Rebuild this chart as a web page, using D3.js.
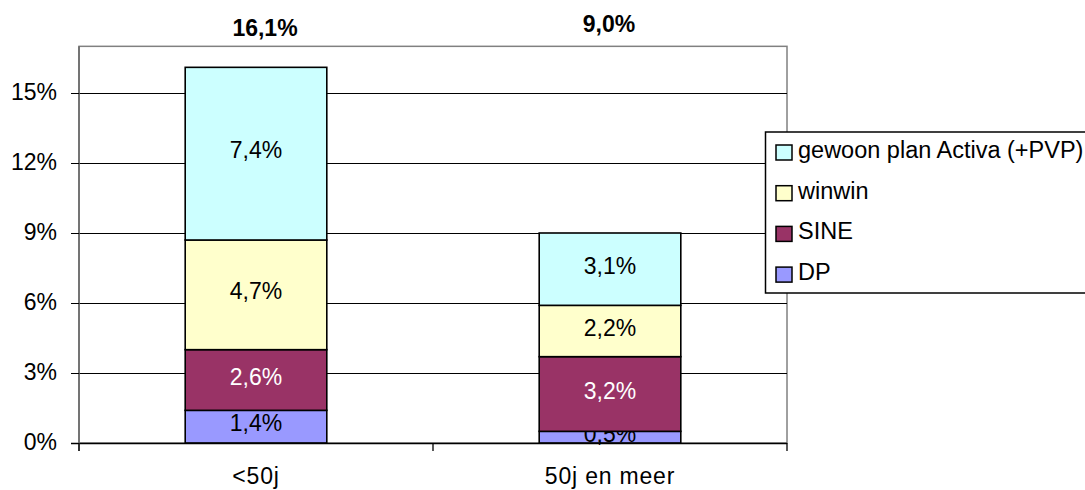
<!DOCTYPE html>
<html>
<head>
<meta charset="utf-8">
<script src="https://cdn.jsdelivr.net/npm/d3@7/dist/d3.min.js"></script>
<style>
  body { margin: 0; background: #fff; }
  svg { display: block; font-family: "Liberation Sans", Arial, sans-serif; }
</style>
</head>
<body>
<svg width="1085" height="490"></svg>
<script>
// data (percent)
var categories = ["<50j", "50j en meer"];
var seriesNames = ["DP", "SINE", "winwin", "gewoon plan Activa (+PVP)"];
var dp = [1.4, 0.5];
var sine = [2.6, 3.2];
var winwin = [4.7, 2.2];
var gewoon = [7.4, 3.1];
var totals = [16.1, 9.0];
var yTicks = [0, 3, 6, 9, 12, 15];

var colors = ["#9999ff", "#993366", "#ffffcc", "#ccffff"];
var labelColors = ["#000", "#fff", "#000", "#000"];

var rows = categories.map(function(c, i) {
    return {cat: c, "DP": dp[i], "SINE": sine[i], "winwin": winwin[i], "gewoon plan Activa (+PVP)": gewoon[i]};
});

var fmt = function(v) { return d3.format(".1f")(v).replace(".", ",") + "%"; };

var left = 79, right = 787, bottom = 443;

var x = d3.scaleBand().domain(categories).range([left, right])
    .paddingInner(0.6).paddingOuter(0.3);
var y = d3.scaleLinear().domain([0, 17]).range([bottom, bottom - 17 * 70 / 3]);
var xOuter = d3.scaleBand().domain(categories).range([left, right]);

var svg = d3.select("svg");

// plot frame
svg.append("rect")
    .attr("x", left).attr("y", y(17))
    .attr("width", right - left).attr("height", bottom - y(17))
    .attr("fill", "#fff").attr("stroke", "#808080").attr("stroke-width", 1.5);

// gridlines
svg.append("g").selectAll("line").data(yTicks.filter(function(d){ return d > 0; }))
    .enter().append("line")
    .attr("x1", left).attr("x2", right)
    .attr("y1", function(d){ return Math.round(y(d)) + 0.5; })
    .attr("y2", function(d){ return Math.round(y(d)) + 0.5; })
    .attr("stroke", "#000").attr("stroke-width", 1);

// stacked bars
var stack = d3.stack().keys(seriesNames)(rows);

var layers = svg.append("g").selectAll("g").data(stack).enter().append("g");

layers.selectAll("rect").data(function(d){ return d; }).enter().append("rect")
    .attr("x", function(d){ return x(d.data.cat); })
    .attr("width", x.bandwidth())
    .attr("y", function(d){ return y(d[1]); })
    .attr("height", function(d){ return y(d[0]) - y(d[1]); })
    .attr("fill", function(d){ return colors[seriesNames.indexOf(d3.select(this.parentNode).datum().key)]; })
    .attr("stroke", "#000").attr("stroke-width", 1.6);

layers.each(function(layer, li) {
    d3.select(this).selectAll("text").data(layer).enter().append("text")
        .attr("x", function(d){ return x(d.data.cat) + x.bandwidth() / 2; })
        .attr("y", function(d){ return (y(d[0]) + y(d[1])) / 2 + 4.5; })
        .attr("text-anchor", "middle")
        .attr("font-size", 23)
        .attr("fill", labelColors[li])
        .text(function(d){ return fmt(d[1] - d[0]); });
});

// axes
svg.append("line").attr("x1", left - 8).attr("x2", right)
    .attr("y1", bottom + 0.5).attr("y2", bottom + 0.5)
    .attr("stroke", "#000").attr("stroke-width", 1.3);
svg.append("line").attr("x1", left).attr("x2", left)
    .attr("y1", y(17)).attr("y2", bottom + 8)
    .attr("stroke", "#666").attr("stroke-width", 1.5);

// y ticks
var yt = svg.append("g").selectAll("g").data(yTicks).enter().append("g")
    .attr("transform", function(d){ return "translate(0," + (Math.round(y(d)) + 0.5) + ")"; });
yt.append("line").attr("x1", left - 8).attr("x2", left).attr("stroke", "#000");
yt.append("text").attr("x", 57).attr("y", 6.5)
    .attr("text-anchor", "end").attr("font-size", 23)
    .text(function(d){ return d + "%"; });

// x ticks
var xTickPos = categories.map(function(c){ return xOuter(c); }).concat([right]);
svg.append("g").selectAll("line").data(xTickPos).enter().append("line")
    .attr("x1", function(d){ return d; }).attr("x2", function(d){ return d; })
    .attr("y1", bottom).attr("y2", bottom + 8)
    .attr("stroke", "#000").attr("stroke-width", 1.3);

svg.append("g").selectAll("text").data(categories).enter().append("text")
    .attr("x", function(d){ return x(d) + x.bandwidth() / 2; })
    .attr("y", 484)
    .attr("text-anchor", "middle").attr("font-size", 23)
    .attr("letter-spacing", 0.8)
    .text(function(d){ return d; });

// totals above the bars
var totalDx = [9, -1], totalY = [36, 32];
svg.append("g").selectAll("text").data(totals).enter().append("text")
    .attr("x", function(d, i){ return x(categories[i]) + x.bandwidth() / 2 + totalDx[i]; })
    .attr("y", function(d, i){ return totalY[i]; })
    .attr("text-anchor", "middle").attr("font-size", 23).attr("font-weight", "bold")
    .text(function(d){ return fmt(d); });

// legend (top entry = last series)
var legend = svg.append("g");
legend.append("rect").attr("x", 765.5).attr("y", 132).attr("width", 340).attr("height", 161)
    .attr("fill", "#fff").attr("stroke", "#000").attr("stroke-width", 1.5);
var legendOrder = seriesNames.slice().reverse();
var li = legend.selectAll("g.item").data(legendOrder).enter().append("g")
    .attr("transform", function(d, i){ return "translate(0," + (158 + i * 40.7) + ")"; });
li.append("rect").attr("x", 776).attr("y", -13).attr("width", 16).attr("height", 15)
    .attr("fill", function(d){ return colors[seriesNames.indexOf(d)]; })
    .attr("stroke", "#000").attr("stroke-width", 1.5);
li.append("text").attr("x", 798).attr("y", 0).attr("font-size", 23.5)
    .text(function(d){ return d; });
</script>
</body>
</html>
